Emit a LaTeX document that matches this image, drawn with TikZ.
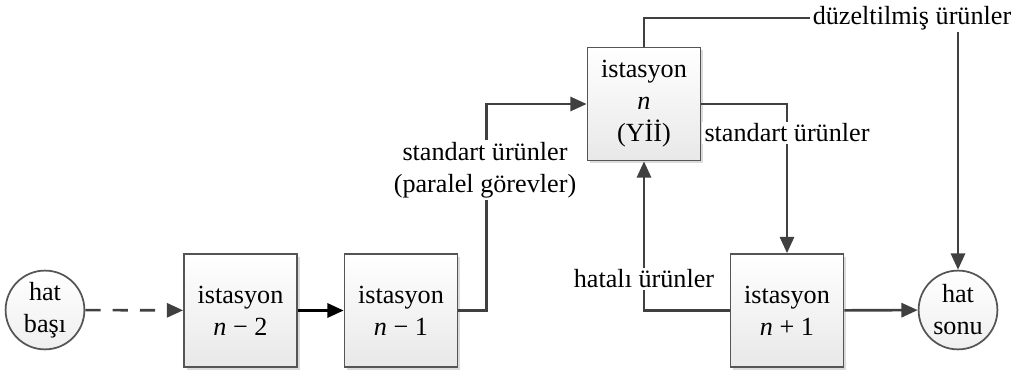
\documentclass[tikz,border=0pt]{standalone}
\usepackage{fontspec}
\setmainfont{Liberation Serif}
\usepackage{tikz}
\usetikzlibrary{
    positioning,
    arrows.meta,
    shadows
}
\definecolor{LineGray}{RGB}{64,64,64}
\definecolor{EdgeGray}{RGB}{85,85,85}
\definecolor{FillGray}{RGB}{232,232,232}

\begin{document}
\begin{tikzpicture}[
    x=0.01611cm, y=-0.01611cm,
    font=\fontsize{12}{14.7}\selectfont,
    station/.style={rectangle, draw=EdgeGray, line width=0.8pt, minimum size=1.82cm, align=center, top color=white, bottom color=FillGray, drop shadow={shadow xshift=1.2pt, shadow yshift=-1.2pt, fill=black!35, opacity=0.4}},
    terminal/.style={circle, draw=EdgeGray, line width=0.8pt, minimum size=1.27cm, inner sep=0pt, align=center, top color=white, bottom color=FillGray!70},
    flowlabel/.style={fill=white, inner sep=1pt, align=center},
    arrow/.style={line width=1.2pt, color=LineGray, -{Triangle[length=7.5pt, width=6.5pt]}},
    mainarrow/.style={line width=1.3pt, color=black, -{Triangle[length=7.5pt, width=6.5pt]}}
]
\useasboundingbox (0,0) rectangle (1017,372);

\node[terminal] (basi) at (45,310) {hat\\baş\i};
\node[station] (st2) at (240.5,310.5) {istasyon\\\textit{n} − 2};
\node[station] (st1) at (401,310.5) {istasyon\\\textit{n} − 1};
\node[station] (stn) at (644,104) {istasyon\\\textit{n}\\(Yİİ)};
\node[station] (stp) at (787,310.5) {istasyon\\\textit{n} + 1};
\node[terminal] (sonu) at (958,310) {hat\\sonu};

\draw[arrow, dashed, dash pattern=on 7pt off 5.5pt] (basi) -- (st2);
\draw[mainarrow] (st2) -- (st1);
\draw[arrow] (st1.east) -- ++(28,0) |- (stn.west);
\draw[arrow] (stn.east) -| (stp.north);
\draw[arrow] (stp.west) -| (stn.south);
\draw[arrow] (stp) -- (sonu);

\node[flowlabel] (paralel) at (485,170) {standart ürünler\\(paralel görevler)};
\node[flowlabel] (standart) at (787,133) {standart ürünler};
\node[flowlabel] (hatali) at (644,279) {hatal\i{} ürünler};
\node[flowlabel] (duzelt) at (912,18) {düzeltilmiş ürünler};

\draw[arrow, -] (stn.north) |- (duzelt.west);
\draw[arrow] (sonu.north |- duzelt.south) -- (sonu.north);
\end{tikzpicture}
\end{document}
